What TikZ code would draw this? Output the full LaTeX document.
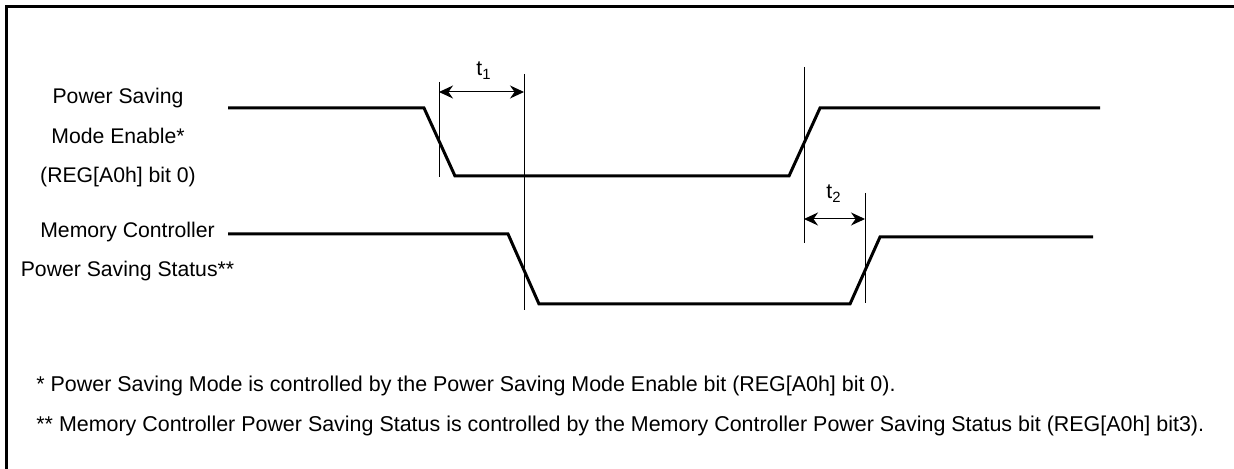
\documentclass[tikz,border=0pt]{standalone}
\usepackage{fontspec}
\setmainfont{Liberation Sans}
\usetikzlibrary{arrows.meta}
\begin{document}
\begin{tikzpicture}[x=0.5pt,y=-0.5pt,
  sig/.style={line width=1.5pt, line join=miter},
  guide/.style={line width=0.5pt},
  dim/.style={line width=0.5pt, {Stealth[length=7pt,width=6.5pt]}-{Stealth[length=7pt,width=6.5pt]}},
  frame/.style={line width=1.25pt},
  lbl/.style={font=\fontsize{10.6}{12}\selectfont, inner sep=0pt, anchor=base},
  note/.style={font=\fontsize{10.72}{12}\selectfont, inner sep=0pt, anchor=base west}]
\useasboundingbox (0,0) rectangle (1234,469);
% frame (right and bottom edges fall outside the picture)
\draw[frame] (6.7,480) -- (6.7,6.7) -- (1245,6.7);

% signal labels
\node[lbl] (l1) at (118,104) {Power Saving};
\node[lbl] (l2) at (118,143.5) {Mode Enable*};
\node[lbl] (l3) at (118,183) {(REG[A0h] bit 0)};
\node[lbl] (l4) at (127.5,238) {Memory Controller};
\node[lbl] (l5) at (127.5,277) {Power Saving Status**};

% Power Saving Mode Enable waveform
\coordinate (a0) at (228,108);
\coordinate (a1) at (424,108);
\coordinate (a2) at (455,176);
\coordinate (a3) at (789,176);
\coordinate (a4) at (820,108);
\coordinate (a5) at (1100,108);
\draw[sig] (a0) -- (a1) -- (a2) -- (a3) -- (a4) -- (a5);

% Memory Controller Power Saving Status waveform
\coordinate (b0) at (228,234);
\coordinate (b1) at (508,234);
\coordinate (b2) at (539,304);
\coordinate (b3) at (850,304);
\coordinate (b4) at (880,237);
\coordinate (b5) at (1093,237);
\draw[sig] (b0) -- (b1) -- (b2) -- (b3) -- (b4) -- (b5);

% guide lines
\coordinate (g1t) at (439,82);  \coordinate (g1b) at (439,177);
\coordinate (g2t) at (524,74);  \coordinate (g2b) at (524,310);
\coordinate (g3t) at (804,67);  \coordinate (g3b) at (804,243);
\coordinate (g4t) at (865,193); \coordinate (g4b) at (865,303);
\draw[guide] (g1t) -- (g1b);
\draw[guide] (g2t) -- (g2b);
\draw[guide] (g3t) -- (g3b);
\draw[guide] (g4t) -- (g4b);

% timing dimensions
\coordinate (d1l) at (439,92);  \coordinate (d1r) at (524,92);
\coordinate (d2l) at (804,219); \coordinate (d2r) at (865,219);
\draw[dim] (d1l) -- (d1r);
\draw[dim] (d2l) -- (d2r);
\node[lbl] (t1) at (484,76) {t\textsubscript{1}};
\node[lbl] (t2) at (834,199) {t\textsubscript{2}};

% footnotes
\node[note] (n1) at (36,392) {* Power Saving Mode is controlled by the Power Saving Mode Enable bit (REG[A0h] bit 0).};
\node[note] (n2) at (36,431) {** Memory Controller Power Saving Status is controlled by the Memory Controller Power Saving Status bit (REG[A0h] bit3).};
\end{tikzpicture}
\end{document}
